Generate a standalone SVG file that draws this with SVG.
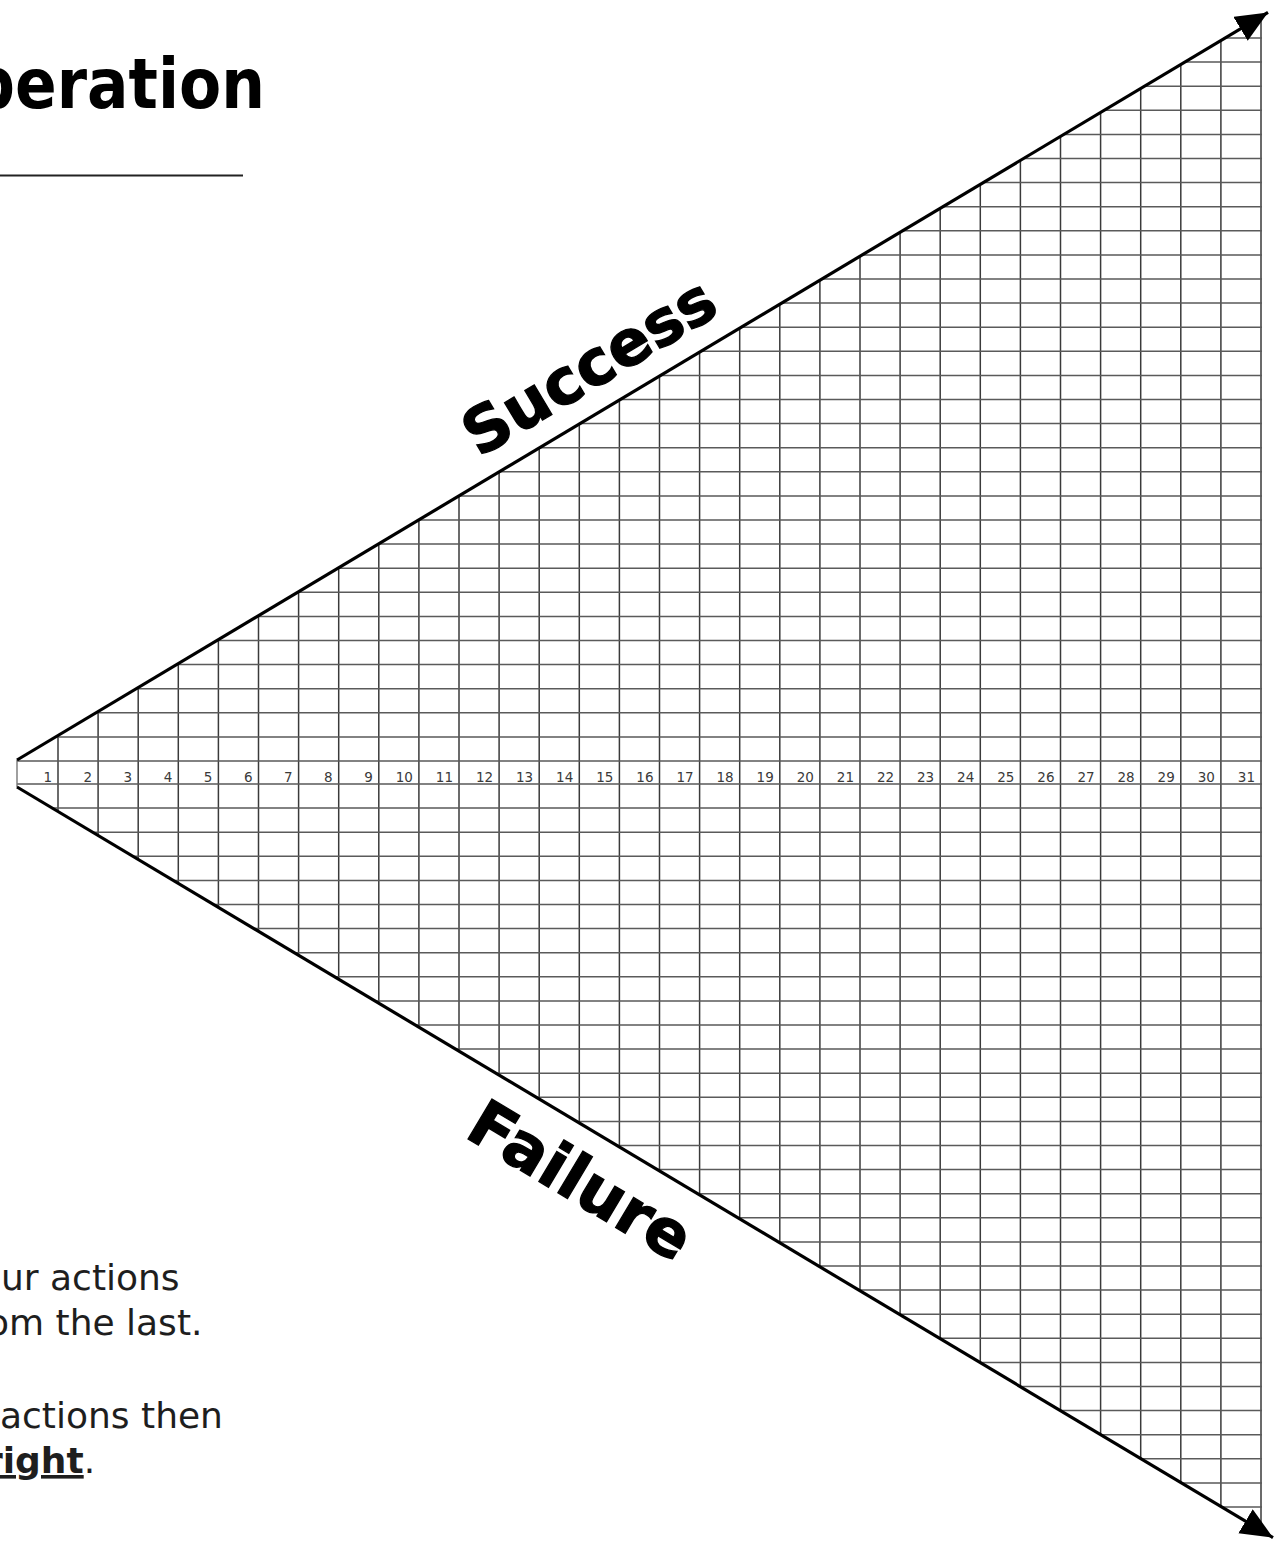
<svg xmlns="http://www.w3.org/2000/svg" width="1283" height="1542" viewBox="0 0 1283 1542">
<style>
.vg{stroke:#3a3a3a;stroke-width:1.5;fill:none}
.hg{stroke:#5a5a5a;stroke-width:1.5;fill:none}
.num{font-family:"DejaVu Sans",sans-serif;font-size:13.5px;fill:#3a3a3a;text-anchor:end}
.axis{stroke:#000;stroke-width:3.2;fill:none}
.big{font-family:"DejaVu Sans",sans-serif;font-weight:bold;fill:#000}
.heavy{stroke:#000;stroke-width:1.3}
.body{font-family:"DejaVu Sans",sans-serif;font-size:36px;fill:#1e1e1e}
</style>
<defs>
<clipPath id="tri"><polygon points="17,760 1262.5,15 1262.5,1532 17,787"/></clipPath>
<marker id="ah" markerUnits="userSpaceOnUse" markerWidth="34" markerHeight="30" refX="32" refY="14" orient="auto"><path d="M0 0L32 14L0 28z" fill="#000"/></marker>
</defs>
<rect width="1283" height="1542" fill="#fff"/>
<g id="title">
<text class="big" x="-29" y="108" textLength="294" lengthAdjust="spacingAndGlyphs" style="font-size:70px">peration</text>
<line x1="0" y1="175.5" x2="243" y2="175.5" stroke="#222" stroke-width="2"/>
</g>
<g id="grid" clip-path="url(#tri)">
<path class="vg" d="M58 0V1542M98.1 0V1542M138.2 0V1542M178.3 0V1542M218.4 0V1542M258.5 0V1542M298.6 0V1542M338.7 0V1542M378.8 0V1542M418.9 0V1542M459 0V1542M499.1 0V1542M539.2 0V1542M579.3 0V1542M619.4 0V1542M659.5 0V1542M699.6 0V1542M739.7 0V1542M779.8 0V1542M819.9 0V1542M860 0V1542M900.1 0V1542M940.2 0V1542M980.3 0V1542M1020.4 0V1542M1060.5 0V1542M1100.6 0V1542M1140.7 0V1542M1180.8 0V1542M1220.9 0V1542M1261 0V1542"/>
<path class="hg" d="M17 761H1262M17 784H1262M17 736.9H1262M17 712.8H1262M17 688.7H1262M17 664.6H1262M17 640.5H1262M17 616.4H1262M17 592.3H1262M17 568.2H1262M17 544.1H1262M17 520H1262M17 495.9H1262M17 471.8H1262M17 447.7H1262M17 423.6H1262M17 399.5H1262M17 375.4H1262M17 351.3H1262M17 327.2H1262M17 303.1H1262M17 279H1262M17 254.9H1262M17 230.8H1262M17 206.7H1262M17 182.6H1262M17 158.5H1262M17 134.4H1262M17 110.3H1262M17 86.2H1262M17 62.1H1262M17 38H1262M17 808.1H1262M17 832.2H1262M17 856.3H1262M17 880.4H1262M17 904.5H1262M17 928.6H1262M17 952.7H1262M17 976.8H1262M17 1000.9H1262M17 1025H1262M17 1049.1H1262M17 1073.2H1262M17 1097.3H1262M17 1121.4H1262M17 1145.5H1262M17 1169.6H1262M17 1193.7H1262M17 1217.8H1262M17 1241.9H1262M17 1266H1262M17 1290.1H1262M17 1314.2H1262M17 1338.3H1262M17 1362.4H1262M17 1386.5H1262M17 1410.6H1262M17 1434.7H1262M17 1458.8H1262M17 1482.9H1262M17 1507H1262"/>
</g>
<line x1="17" y1="760" x2="17" y2="787" stroke="#777" stroke-width="1.4"/>
<g id="labels">
<text class="num" x="52" y="782">1</text>
<text class="num" x="92.1" y="782">2</text>
<text class="num" x="132.2" y="782">3</text>
<text class="num" x="172.3" y="782">4</text>
<text class="num" x="212.4" y="782">5</text>
<text class="num" x="252.5" y="782">6</text>
<text class="num" x="292.6" y="782">7</text>
<text class="num" x="332.7" y="782">8</text>
<text class="num" x="372.8" y="782">9</text>
<text class="num" x="412.9" y="782">10</text>
<text class="num" x="453" y="782">11</text>
<text class="num" x="493.1" y="782">12</text>
<text class="num" x="533.2" y="782">13</text>
<text class="num" x="573.3" y="782">14</text>
<text class="num" x="613.4" y="782">15</text>
<text class="num" x="653.5" y="782">16</text>
<text class="num" x="693.6" y="782">17</text>
<text class="num" x="733.7" y="782">18</text>
<text class="num" x="773.8" y="782">19</text>
<text class="num" x="813.9" y="782">20</text>
<text class="num" x="854" y="782">21</text>
<text class="num" x="894.1" y="782">22</text>
<text class="num" x="934.2" y="782">23</text>
<text class="num" x="974.3" y="782">24</text>
<text class="num" x="1014.4" y="782">25</text>
<text class="num" x="1054.5" y="782">26</text>
<text class="num" x="1094.6" y="782">27</text>
<text class="num" x="1134.7" y="782">28</text>
<text class="num" x="1174.8" y="782">29</text>
<text class="num" x="1214.9" y="782">30</text>
<text class="num" x="1255" y="782">31</text>
</g>
<g id="connectors">
<path id="success-axis" class="axis" d="M17 760L1268 12.4" marker-end="url(#ah)"/>
<path id="failure-axis" class="axis" d="M17 787L1273 1537.6" marker-end="url(#ah)"/>
</g>
<g id="success">
<text class="big heavy" transform="translate(479,458) rotate(-30.9)" style="font-size:63px">Success</text>
</g>
<g id="failure">
<text class="big heavy" transform="translate(463,1136) rotate(30.9)" style="font-size:64px">Failure</text>
</g>
<g id="note">
<text class="body" x="1" y="1290">ur actions</text>
<text class="body" x="-13" y="1335">om the last.</text>
<text class="body" x="0" y="1428">actions then</text>
<text class="body" x="-15" y="1473"><tspan font-weight="bold" text-decoration="underline">right</tspan>.</text>
</g>
</svg>
